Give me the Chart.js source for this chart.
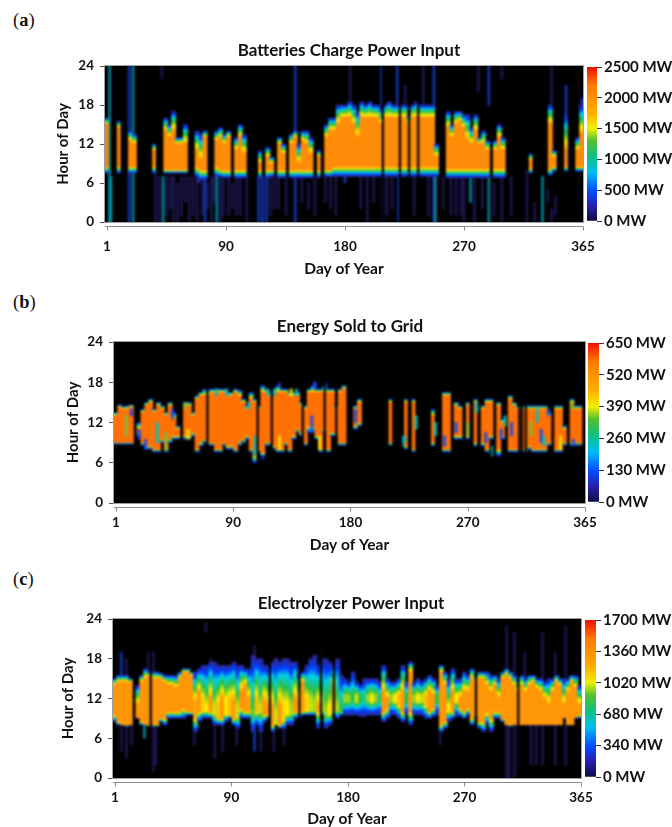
<!DOCTYPE html>
<html>
<head>
<meta charset="utf-8">
<title>Power heatmaps</title>
<script src="https://cdn.jsdelivr.net/npm/chart.js@4"></script>
<style>
  html, body { margin: 0; padding: 0; background: #fff; overflow: hidden; }
  #page { position: relative; width: 672px; height: 827px; overflow: hidden; }
  canvas { position: absolute; }
  .tag { position: absolute; left: 13px; font: 18.5px "Liberation Serif", serif; color: #111; }
  .tag b { font-weight: bold; }
</style>
</head>
<body>
<div id="page">
  <div class="tag" style="top:10px">(<b>a</b>)</div>
  <div class="tag" style="top:292px">(<b>b</b>)</div>
  <div class="tag" style="top:569px">(<b>c</b>)</div>
</div>
<script>
// one column every 3 days, hours of day. 0 = nothing in that column
const columnDays = [];
for (let d = 1; d <= 364; d += 3) columnDays.push(d);

const xTickDays = [1, 92, 183, 274, 365];
const xTickLabels = ['1', '90', '180', '270', '365'];
const hourTicks = [0, 6, 12, 18, 24];

// (a) batteries
const aCoreTop = [
  15,0,0,14.5,0,0,12.5,12,0,0,
  0,0,11,0,0,14,13,14,12,12,
  12,0,0,11,9.5,13,0,0,12.5,13,
  12,13,0,11,13,10.5,0,0,0,9,
  0,10,9,0,12,10.5,0,12,13,9,
  12.5,12,10.5,0,10,0,13,14,14,15,
  16,16,16,15,13,16,16,16,16,16,
  15,16,16,16,16,16,16,15,16,16,
  16,16,16,16,10,0,0,14.5,13,15,
  15.5,14.5,12.5,12,14,12,12,11,0,11,
  13,11,0,0,0,0,0,0,9.5,0,
  0,0,0,15,10,0,0,11,0,0,
  11,13.5];
const aCoreLow = [
  8.5,0,0,8.5,0,0,8.5,8.5,0,0,
  0,0,8.5,0,0,8,8,8,8,8,
  8,0,0,8.5,8,8,0,0,8.5,8,
  8,8,0,8,8,8,0,0,0,8,
  0,8,8,0,8,8,0,8,8,8,
  8,8,8,0,8,0,8,8,8.5,8.5,
  8.5,8.5,8.5,8.5,8.5,8.5,8.5,8.5,8.5,8.5,
  8.5,8.5,8.5,8.5,8.5,8.5,8.5,8.5,8.5,8.5,
  8.5,8.5,8.5,8.5,8.5,0,0,8.2,8.2,8.2,
  8.2,8.2,8.2,8.2,8.2,8.2,8.2,8.2,0,8.2,
  8.2,8.2,0,0,0,0,0,0,8.2,0,
  0,0,0,8.2,8.5,0,0,8.5,0,0,
  8.5,8.5];
const aPlumeTop = [
  16,0,0,15.5,0,0,14,13.5,0,0,
  0,0,12,0,0,16,15,17,13,13,
  15,0,0,14,13.5,14,0,0,14,14.5,
  13.5,14,0,13,15,13.5,0,0,0,11,
  0,11.5,10,0,13,12,0,13.5,14,12,
  14,14,13,0,11,0,15,16,16,18,
  18,18,18.5,18,17,18.5,18,18.5,18,18,
  17.5,18,18.5,18,18,18,18,16.5,18,18.5,
  18,18,18,18,12,0,0,17,15,17,
  17,16.5,16.5,14.5,16.5,13,14,12.5,0,12.5,
  15,13,0,0,0,0,0,0,10.5,0,
  0,0,0,18,11,0,0,16.5,0,0,
  13,18];
const aPlumeLow = [
  7.5,0,0,7.5,0,0,7.5,7.5,0,0,
  0,0,7.5,0,0,7.5,7.5,7.5,7.5,7.5,
  7.5,0,0,7,6.5,6.5,0,0,7,7,
  6.8,6.8,0,6.8,6.8,6.8,0,0,0,6.8,
  0,6.8,7,0,6.8,6.8,0,6.8,6.8,6.8,
  6.8,6.8,6.8,0,6.8,0,7,7,7,7,
  7,7,7,7,7,7,7,7,7,7,
  7,7,7,7,7,7,7,7,7,7,
  7,7,7,7,7,0,0,6.8,6.8,6.8,
  6.8,6.8,6.8,6.8,6.8,6.8,6.8,6.8,0,6.8,
  6.8,6.8,0,0,0,0,0,0,7.5,0,
  0,0,0,7.2,7.8,0,0,7.8,0,0,
  7.8,7.8];
const aStreakDay  = [3,4,18,18,21,38,41,44,52,58,64,71,74,76,81,85,90,94,100,117,120,123,132,138,145,43,187,183,211,212,223,224,229,243,251,252,264,274,279,293,293,303,303,322,334,340,341,341,352,364,200,236,268,285,310,328,
  47,50,55,61,67,70,78,83,88,97,103,108,126,129,150,155,160,168,172,176,195,205,215,219,247,258,272,282,288,297,338,344];
const aStreakLow  = [0,0,14,0,0,0,0,0,0,1,0,6,1,0,0,0,1,1,1,0,0,0,2,1,0,22,18,6,18,0,18,0,14,18,0,0,1,0,3,18,0,22,0,0,0,15,0,18,16,16,0,1,1,20,1,0,
  1,2,0,3,1,0,2,3,0,2,1,0,1,2,3,2,1,3,2,1,2,3,1,2,1,2,1,0,2,1,3,1];
const aStreakHigh = [24,7,24,8,24,8,7,7,7,7,7,7.5,7,7,7,7,7,7,7,7,7,7,7,7,24,24,24,8,24,7,24,8,21,24,24,8,7,7,7,24,7,24,7,8,7,18,2,24,21,19,7,7,7,24,7,3,
  7,7,6,7,7,7,6,7,7,6,7,7,7,7,7,6,7,7,7,7,7,7,7,7,7,7,7,7,7,6,5,4];
const aStreakTone = [2,2,1,1,2,0,0,2,0,0,0,1,0,1,0,2,0,0,0,1,1,1,0,0,1,0,0,1,1,1,1,1,0,0,1,2,0,0,2,1,2,0,0,0,2,1,0,0,1,1,0,0,0,0,0,0,
  0,0,0,0,0,0,0,0,0,0,0,0,0,0,0,0,0,0,0,0,0,0,0,0,0,0,0,0,0,0,0,0];
const aGapDays = [212, 225, 232, 239];
const aFleckDay = [], aFleckLow = [], aFleckHigh = [], aFleckTone = [];

// (b) sold to grid
const bCoreTop = [
  13,14.3,14,14,14.3,0,11,13.5,14.5,15,
  13.5,14.5,14,13,14.5,12.5,11,0,14.5,14.5,
  13,15.5,16,16,16,16.5,16.5,16.5,16.5,16,
  16,16.5,16,15,14,15.5,15,14,16.5,16.5,
  16,16.5,16.5,16.5,16.5,16,16,16,14.5,14,
  16.5,16.5,16.5,16.5,16.5,16.5,16.5,14,16.5,17,
  0,0,14,15,0,0,0,0,0,0,
  0,15,0,0,0,15,0,15,0,0,
  0,0,13,0,0,16,16,0,14.5,14,
  0,14.5,0,15,0,14,15,15,0,14.5,
  12,0,15.5,14.5,14,14,14,14,14,14,
  14,14,13,0,14,14,11,0,15,14,
  14,0];
const bCoreLow = [
  9,9,9,9,9,0,10.5,9,8.5,8.5,
  8,8,9.5,8,9.5,10,10,0,10,10,
  10.5,8,9,9.5,9,9,8,8,9,8.5,
  8.5,8,9,9.5,10,8,7,8,7.5,9,
  9,8.5,8,8,9,8,10,11,10.5,9,
  11.5,11.5,10,8,11,8,10.5,10.5,9,9,
  0,0,11.5,12,0,0,0,0,0,0,
  0,9,0,0,0,8.5,0,8,0,0,
  0,0,9,0,0,8,8,0,10,10,
  0,10,0,9,0,9,8,10,0,8,
  10,0,8,8,8,8,8,8.5,8,8,
  8,8,9,0,8,8,9,0,9,9,
  9,0];
const bPlumeTop = [
  13.5,14.6,14.4,14.5,14.6,0,12,14,15,15.5,
  14,15,14.5,13.5,15,13.5,11.5,0,15,15,
  13.5,16,16.5,17,17,17,17,17,17,16.5,
  16.5,17,16.8,15.5,14.5,16.5,15.5,14.5,17.5,17,
  16.5,17,17.5,17,17,16.5,16.5,16.5,15,14.5,
  17,17.5,17,17,17.5,17,17,14.5,17,17.5,
  0,0,14.5,15.5,0,0,0,0,0,0,
  0,15.5,0,0,0,15.5,0,15.5,0,0,
  0,0,14,0,0,16.5,16.5,0,15,14.5,
  0,15,0,15.5,0,14.5,15.5,15.5,0,15,
  12.5,0,16,15,14.5,14.5,14.5,14.5,14.5,14.5,
  14.5,14.5,13.5,0,14.5,14.5,11.5,0,15.5,14.5,
  14.5,0];
const bPlumeLow = [
  8.8,8.8,8.8,8.8,8.8,0,10,8.6,8,8,
  7.6,7.6,9,7.6,9,9.5,9.5,0,9.5,9.5,
  10,7.6,8.5,9,8.6,8.6,7.6,7.6,8.6,8,
  8,7.6,8.6,9,9.5,7.6,6,7.6,7,8.6,
  8.6,8,7.6,7.6,8.6,7.6,9.5,10.5,10,8.6,
  10.5,10.5,9.5,7.6,10.5,7.6,10,10,8.6,8.6,
  0,0,11,11.5,0,0,0,0,0,0,
  0,8.6,0,0,0,8,0,7.6,0,0,
  0,0,8.5,0,0,7.6,7.6,0,9.5,9.5,
  0,9.5,0,8.5,0,8.5,7.6,9.5,0,7,
  9.5,0,7.6,7.6,7.6,7.6,7.6,8,7.6,7.6,
  7.6,7.6,8.6,0,7.6,7.6,8.6,0,8.6,8.6,
  8.6,0];
const bStreakDay  = [115, 108, 128, 156, 164, 293, 224];
const bStreakLow  = [6.5, 6.5, 16.5, 16.5, 16.5, 7, 8.5];
const bStreakHigh = [8, 8, 18, 18, 18, 8.5, 10];
const bStreakTone = [1, 2, 1, 1, 1, 2, 2];
const bGapDays = [72, 111, 122, 146, 163, 172, 314, 316, 319];
// small patches of other colours on top of the orange
const bFleckDay  = [9,13,19,24,33,40,45,57,55,79,87,104,109,119,124,137,141,153,155,128,159,187,225,234,249,256,265,274,281,288,300,303,308,323,328,331,333,337,346,356,355];
const bFleckLow  = [10,13,9.5,8,9,8,12.5,9.5,14,16,16,14,7,16,16,16,16,10.5,17,8,8,12,9,11,10,8.5,10.5,10,13.5,9,9.5,11.5,10,10,12,9,8.5,13,8,8.5,14];
const bFleckHigh = [13,14,11,9.5,12,10.5,14,11,15,17,17,15,10,17,17,17,17,13,18,10,10,14,10,13,12,10,12,12,15,10.5,11,13,12,12,14,11,10,14,10,9.5,15];
const bFleckTone = [3,1,1,1,2,3,1,4,3,2,2,2,2,2,2,4,2,1,1,4,4,1,2,2,2,1,1,3,2,1,1,2,1,3,2,1,2,1,4,1,3];

// (c) electrolyzer
const cCoreTop = [
  14,14.5,14.5,14.5,14.5,0,11,14.5,15,15.5,
  15,15,15,14.5,14,14,13.5,15,16,16,
  15.5,11.5,13,12,11,12,11,11,12,12,
  12,11.5,11,13,14,12,10,12,11,11.5,
  11,10.5,10,11,11,11.5,11,12,12,14.5,
  12,12,11.5,11,12,10.5,11,14,11,10.5,
  12.5,12.5,12.5,12.5,12.5,12.5,12.5,12.5,12.5,12.5,
  13,12,12.5,12.5,12.5,13,12.5,16,12.5,12.5,
  12.5,12.5,13,12.5,12.5,16,14,11,13,12.5,
  12,13,13,15,14.5,15,15,14,13,14,
  12,15,15.5,15,14,13,14,13,14,14.5,
  13.5,13,12,11,13,14.5,14,11,13,14.5,
  13.5,11];
const cCoreLow = [
  9.5,8.5,8,8,8,0,9,8.5,8,8,
  8,8,9,9,10,10,10,10,10.5,10,
  10,9,10,10,10,10,9.5,9,9,9.5,
  9.5,9,9,10.5,10,10,9.5,10,10,9.5,
  9.5,8,8,8,8.5,9.5,9.5,10,10,10,
  10,10,10,10,10,9.5,9.5,10,10,9.8,
  11.5,11.5,11.5,11.5,11.5,11.5,11.5,11.5,11.5,11.5,
  10,10.5,11.5,11.5,11,10,11.5,10,11.5,11.5,
  11.5,11,10,10.5,11.5,8,8.5,10,10,11.5,
  10.5,10,10.5,9,9.5,8.5,8.5,10,9,10,
  10,9,8,8,8,8,8,8,8,8,
  8,8,8,8,8,8,8,9,8,8,
  9,9.5];
const cPlumeTop = [
  15,15.5,15.5,15.5,15,0,14,15.5,16.5,16,
  16,16,15.8,15.5,15.5,15.5,15.5,16,16.5,16.5,
  16,16,16.5,17,17,17.5,17.5,17,17,17,
  17,17.5,17,17,16.5,16.5,18.5,18,18,17,
  17,17.5,18,17.5,18,18,17.5,17.5,16,16,
  17,18,18.5,17,18,18,17.5,17,18,15.5,
  15,14.5,16,14.5,14,15,15,15,15,14.5,
  17,15,14.5,14.5,15,17,14.5,17.5,14.5,15,
  14.5,15,15.5,15,14,17,16,15,16.5,15,
  15,16,15.5,16.5,15.5,16,16,16,15.5,15.5,
  15,16,16.5,16,15.5,15,15.5,15,15.5,15.5,
  15,15,14.5,15,15,15.5,15,15,15,15.5,
  15.5,14];
const cPlumeLow = [
  8.5,8,8,7.8,8,0,9,8,8,7.8,
  7.8,7.8,8.5,8,9,9,9,9,9,9.5,
  9.5,7,8.5,9,9,9,8,8,8,8.5,
  9,8,7.5,9,9,9,7,8,7,8.5,
  9,7,8,7.5,7.5,8,8,9,9,9.5,
  9.5,9.5,9.5,7.5,9.5,7.5,8,9.5,9,9.5,
  9.5,9.5,9.5,9.5,9.3,9.3,9.5,9.5,9.5,9.5,
  8.5,9,9.5,9.5,9,8.5,9.5,8,9.5,9.5,
  9.5,9,9,9.3,9.5,7,7.5,8.5,9,9.3,
  9.3,9,9.5,8,9,7.5,7,8,7,9,
  9,8.5,8,7.8,8,8,8,8,8,8,
  8,8,8,8,8,8,8,9,8,8,
  9,9];
// how far up the colour bar the middle of the column gets (1 = orange)
const cPeak = [
  1,1,1,1,1,1,1,1,1,1,
  1,1,1,1,1,1,1,1,1,1,
  1,.95,1,.85,.8,1,.75,.9,1,.8,
  .9,1,.75,1,1,.95,.65,.9,.75,1,
  .95,1,.75,1,.85,.8,.72,1,.9,1,
  .85,.75,.72,.95,.75,.7,.8,1,.72,.62,
  .7,.7,.6,.75,.6,.5,.7,.8,.7,.55,
  1,1,.7,.8,.9,1,.6,1,.7,.8,
  .75,.9,1,1,.6,1,1,.8,1,.8,
  1,1,1,1,1,1,1,1,1,1,
  1,1,1,1,1,1,1,1,1,1,
  1,1,1,1,1,1,1,1,1,1,
  1,1];
const cStreakDay  = [6,6,10,10,14,24,27,31,33,31,63,72,76,79,85,96,110,110,115,125,133,162,255,307,307,309,313,313,316,321,326,330,335,335,345,345,353,353];
const cStreakLow  = [14,4,3,14,5,6,15,1,2,15,5,22,15,3,4,5,4,17,4,4,5,17,5,0,15,0,0,15,1,15,2,2,15,2,2,15,15,2];
const cStreakHigh = [19,8,8,18,8,8,19,8,8,19,8,23.5,18,8,8,8,8,20,8,8,8,20,8,9,23,9,9,22,8,19,8,8,22,8,8,19,23,8];
const cStreakTone = [1,0,0,0,0,2,0,0,0,0,0,0,0,0,0,0,1,0,0,0,0,0,0,0,0,0,0,0,0,0,0,0,0,0,0,0,0,0];
const cGapDays = [29, 122, 145, 162, 172, 283, 316];
const cFleckDay = [], cFleckLow = [], cFleckHigh = [], cFleckTone = [];

// colour bar tick values
const aBarTicks = [0, 500, 1000, 1500, 2000, 2500];
const bBarTicks = [0, 130, 260, 390, 520, 650];
const cBarTicks = [0, 340, 680, 1020, 1360, 1700];

const fontName = 'Lato, "Open Sans", sans-serif';
const ramp = [
  [0, [46, 40, 150]], [.22, [0, 60, 255]], [.42, [0, 210, 230]],
  [.6, [40, 190, 70]], [.8, [255, 235, 0]], [1, [255, 140, 5]]
];
const toneColor = ['rgba(62,50,175,0.42)', 'rgba(25,70,235,0.7)', 'rgba(0,175,200,0.7)'];
const fleckColor = ['', 'rgba(25,70,235,0.9)', 'rgba(0,190,190,0.9)', 'rgba(120,190,60,0.9)', 'rgba(250,225,0,0.9)'];

function rampColor(t, coreColor) {
  if (t >= 1) return coreColor;
  for (let i = 1; i < ramp.length; i++) {
    if (t <= ramp[i][0]) {
      const a = ramp[i - 1], b = ramp[i];
      const f = (t - a[0]) / (b[0] - a[0]);
      const c = a[1].map((v, k) => Math.round(v + (b[1][k] - v) * f));
      return 'rgb(' + c.join(',') + ')';
    }
  }
  return coreColor;
}

// upper side of a column stays blue and cyan for longer than the lower side
function upperShape(t) {
  return t < .42 ? t * .714 : .3 + (t - .42) * 1.207;
}

function columnFill(chart, plumeTop, coreTop, coreLow, plumeLow, peak, coreColor) {
  const y = chart.scales.y;
  const top = y.getPixelForValue(plumeTop), bottom = y.getPixelForValue(plumeLow);
  const g = chart.ctx.createLinearGradient(0, top, 0, bottom);
  const at = h => Math.min(1, Math.max(0, (plumeTop - h) / (plumeTop - plumeLow)));
  const stops = ramp.map(s => s[0]).filter(t => t < peak).concat([peak]);
  stops.forEach(t => g.addColorStop(at(plumeTop + (coreTop - plumeTop) * upperShape(t) / upperShape(peak)), rampColor(t, coreColor)));
  stops.slice().reverse().forEach(t => g.addColorStop(at(plumeLow + (coreLow - plumeLow) * t / peak), rampColor(t, coreColor)));
  return g;
}

const plotLook = {
  id: 'plotLook',
  beforeDatasetsDraw(chart) {
    const a = chart.chartArea, c = chart.ctx;
    c.fillStyle = '#000';
    c.fillRect(a.left, a.top, a.width, a.height);
  },
  afterDatasetsDraw(chart) {
    const a = chart.chartArea, c = chart.ctx, x = chart.scales.x;
    // soften the plot, the source image is a blurry scan
    c.save();
    c.beginPath();
    c.rect(a.left, a.top, a.width, a.height);
    c.clip();
    c.filter = 'blur(1.1px)';
    c.drawImage(chart.canvas, a.left, a.top, a.width, a.height, a.left, a.top, a.width, a.height);
    c.restore();
    c.strokeStyle = '#a0a0a0';
    c.lineWidth = 1;
    c.strokeRect(a.left - 0.5, a.top - 0.5, a.width + 1, a.height + 1);
    // day axis sits a little below the plot
    const ay = Math.round(a.bottom) + 4.5;
    c.strokeStyle = '#8a8a8a';
    c.beginPath();
    c.moveTo(a.left, ay);
    c.lineTo(a.right, ay);
    x.ticks.forEach(t => {
      const px = Math.round(x.getPixelForValue(t.value)) + 0.5;
      c.moveTo(px, ay);
      c.lineTo(px, ay + 4);
    });
    c.stroke();
  }
};

function makePanel(p) {
  const canvas = document.createElement('canvas');
  const top = p.T - 26, w = p.titleX * 2, h = 26 + (p.B - p.T) + p.xHeight;
  canvas.style.left = '0px';
  canvas.style.top = top + 'px';
  canvas.style.width = w + 'px';
  canvas.style.height = h + 'px';
  canvas.width = w;
  canvas.height = h;
  document.getElementById('page').appendChild(canvas);

  // runs of days are drawn wide, a day standing alone is a thin spike
  const wide = [], thin = [];
  columnDays.forEach((d, i) => {
    if (!(p.coreTop[i] > 0)) return;
    const alone = !(p.coreTop[i - 1] > 0) && !(p.coreTop[i + 1] > 0);
    (alone ? thin : wide).push({ x: d, y: [p.plumeLow[i], p.plumeTop[i]], i: i });
  });
  const columnColor = ctx => {
    if (!ctx.raw || !ctx.chart.chartArea) return '#000';
    const i = ctx.raw.i;
    return columnFill(ctx.chart, p.plumeTop[i], p.coreTop[i], p.coreLow[i], p.plumeLow[i], p.peak ? p.peak[i] : 1, p.coreColor);
  };

  new Chart(canvas, {
    type: 'bar',
    data: {
      datasets: [
        {
          data: p.gapDays.map(d => ({ x: d, y: [0, 24] })),
          backgroundColor: '#000', barThickness: 1.6, grouped: false, order: 1
        },
        {
          data: p.fleckDay.map((d, i) => ({ x: d, y: [p.fleckLow[i], p.fleckHigh[i]] })),
          backgroundColor: p.fleckTone.map(t => fleckColor[t]),
          barThickness: 2.4, grouped: false, order: 2
        },
        { data: wide, barThickness: 4.2, grouped: false, order: 3, backgroundColor: columnColor },
        { data: thin, barThickness: 3, grouped: false, order: 4, backgroundColor: columnColor },
        {
          data: p.streakDay.map((d, i) => ({ x: d, y: [p.streakLow[i], p.streakHigh[i]] })),
          barThickness: 2.2, grouped: false, order: 5,
          backgroundColor: p.streakTone.map(t => toneColor[t])
        }
      ]
    },
    plugins: [plotLook],
    options: {
      responsive: false,
      animation: false,
      events: [],
      plugins: {
        legend: { display: false },
        tooltip: { enabled: false },
        title: {
          display: true,
          text: p.title,
          color: '#111',
          font: { family: fontName, size: 17, weight: 'bold' },
          padding: { top: 0, bottom: 5.6 }
        }
      },
      scales: {
        x: {
          type: 'linear',
          offset: false,
          min: -0.5,
          max: 365,
          grid: { display: false },
          border: { display: false },
          afterBuildTicks(axis) { axis.ticks = xTickDays.map(v => ({ value: v })); },
          afterFit(axis) { axis.height = p.xHeight; },
          ticks: {
            autoSkip: false, maxRotation: 0, padding: p.xTickPad, color: '#111',
            font: { family: fontName, size: 13.5, weight: 'bold' },
            callback: v => xTickLabels[xTickDays.indexOf(v)]
          },
          title: {
            display: true, text: 'Day of Year', color: '#111',
            font: { family: fontName, size: 15.5, weight: 'bold' },
            padding: { top: 0, bottom: p.xTitleBottom }
          }
        },
        y: {
          min: 0,
          max: 24,
          grid: { drawOnChartArea: false, tickLength: 5, color: '#555' },
          border: { display: false },
          afterBuildTicks(axis) { axis.ticks = hourTicks.map(v => ({ value: v })); },
          afterFit(axis) { axis.width = p.L; },
          ticks: {
            padding: 6, color: '#111',
            font: { family: fontName, size: 13.5, weight: 'bold' }
          },
          title: {
            display: true, text: 'Hour of Day', color: '#111',
            font: { family: fontName, size: 15, weight: 'bold' },
            padding: { top: p.yTitleX - 8, bottom: 0 }
          }
        },
        // empty axis, holds the space right of the plot so the title stays centred on the canvas
        side: {
          position: 'right',
          grid: { display: false },
          border: { display: false },
          ticks: { display: false },
          afterFit(axis) { axis.width = w - p.R; }
        }
      }
    }
  });

  // colour bar
  const barCanvas = document.createElement('canvas');
  const barH = p.barB - p.barT + 20;
  const barW = 672 - p.barL;
  barCanvas.style.left = p.barL + 'px';
  barCanvas.style.top = (p.barT - 10) + 'px';
  barCanvas.style.width = barW + 'px';
  barCanvas.style.height = barH + 'px';
  barCanvas.width = barW;
  barCanvas.height = barH;
  document.getElementById('page').appendChild(barCanvas);
  const maxV = p.barTicks[p.barTicks.length - 1];

  new Chart(barCanvas, {
    type: 'bar',
    data: {
      labels: ['scale'],
      datasets: [{
        data: [[0, maxV]],
        barPercentage: 1,
        categoryPercentage: 1,
        backgroundColor(ctx) {
          const a = ctx.chart.chartArea;
          if (!a) return '#000';
          const g = ctx.chart.ctx.createLinearGradient(0, a.bottom, 0, a.top);
          g.addColorStop(0, '#0c0c40');
          g.addColorStop(.1, '#2a1fb0');
          g.addColorStop(.2, '#0050ff');
          g.addColorStop(.32, '#00c0f0');
          g.addColorStop(.42, '#10c080');
          g.addColorStop(.52, '#50c030');
          g.addColorStop(.6, '#f0f000');
          g.addColorStop(.7, '#ffae00');
          g.addColorStop(.88, '#ff7a00');
          g.addColorStop(1, '#f01000');
          return g;
        }
      }]
    },
    options: {
      responsive: false,
      animation: false,
      events: [],
      layout: { padding: { top: 10, bottom: 10, left: 0, right: 0 } },
      plugins: { legend: { display: false }, tooltip: { enabled: false } },
      scales: {
        x: { display: false },
        y: {
          position: 'right',
          min: 0,
          max: maxV,
          grid: { drawOnChartArea: false, tickLength: 5, color: '#333' },
          border: { display: false },
          afterBuildTicks(axis) { axis.ticks = p.barTicks.map(v => ({ value: v })); },
          afterFit(axis) { axis.width = barW - p.barSize; },
          ticks: {
            padding: 2, color: '#111',
            font: { family: fontName, size: 15, weight: 'bold' },
            callback: v => v + ' MW'
          }
        }
      }
    }
  });
}

makePanel({
  title: 'Batteries Charge Power Input', titleX: 349, yTitleX: 62, coreColor: 'rgb(255,140,8)',
  L: 105, R: 583, T: 66, B: 222, xHeight: 58, xTickPad: 9, xTitleBottom: 2,
  coreTop: aCoreTop, coreLow: aCoreLow, plumeTop: aPlumeTop, plumeLow: aPlumeLow,
  streakDay: aStreakDay, streakLow: aStreakLow, streakHigh: aStreakHigh, streakTone: aStreakTone,
  fleckDay: aFleckDay, fleckLow: aFleckLow, fleckHigh: aFleckHigh, fleckTone: aFleckTone,
  gapDays: aGapDays,
  barTicks: aBarTicks, barL: 587, barT: 66, barB: 222, barSize: 10
});
makePanel({
  title: 'Energy Sold to Grid', titleX: 350, yTitleX: 72, coreColor: 'rgb(255,112,5)',
  L: 114, R: 585, T: 342, B: 503, xHeight: 56, xTickPad: 4, xTitleBottom: 5,
  coreTop: bCoreTop, coreLow: bCoreLow, plumeTop: bPlumeTop, plumeLow: bPlumeLow,
  streakDay: bStreakDay, streakLow: bStreakLow, streakHigh: bStreakHigh, streakTone: bStreakTone,
  fleckDay: bFleckDay, fleckLow: bFleckLow, fleckHigh: bFleckHigh, fleckTone: bFleckTone,
  gapDays: bGapDays,
  barTicks: bBarTicks, barL: 588, barT: 342, barB: 503, barSize: 11
});
makePanel({
  title: 'Electrolyzer Power Input', titleX: 351, yTitleX: 67, coreColor: 'rgb(255,150,8)',
  L: 113, R: 581, T: 619, B: 778, xHeight: 56, xTickPad: 4, xTitleBottom: 6,
  coreTop: cCoreTop, coreLow: cCoreLow, plumeTop: cPlumeTop, plumeLow: cPlumeLow, peak: cPeak,
  streakDay: cStreakDay, streakLow: cStreakLow, streakHigh: cStreakHigh, streakTone: cStreakTone,
  fleckDay: cFleckDay, fleckLow: cFleckLow, fleckHigh: cFleckHigh, fleckTone: cFleckTone,
  gapDays: cGapDays,
  barTicks: cBarTicks, barL: 585, barT: 619, barB: 778, barSize: 11
});
</script>
</body>
</html>
